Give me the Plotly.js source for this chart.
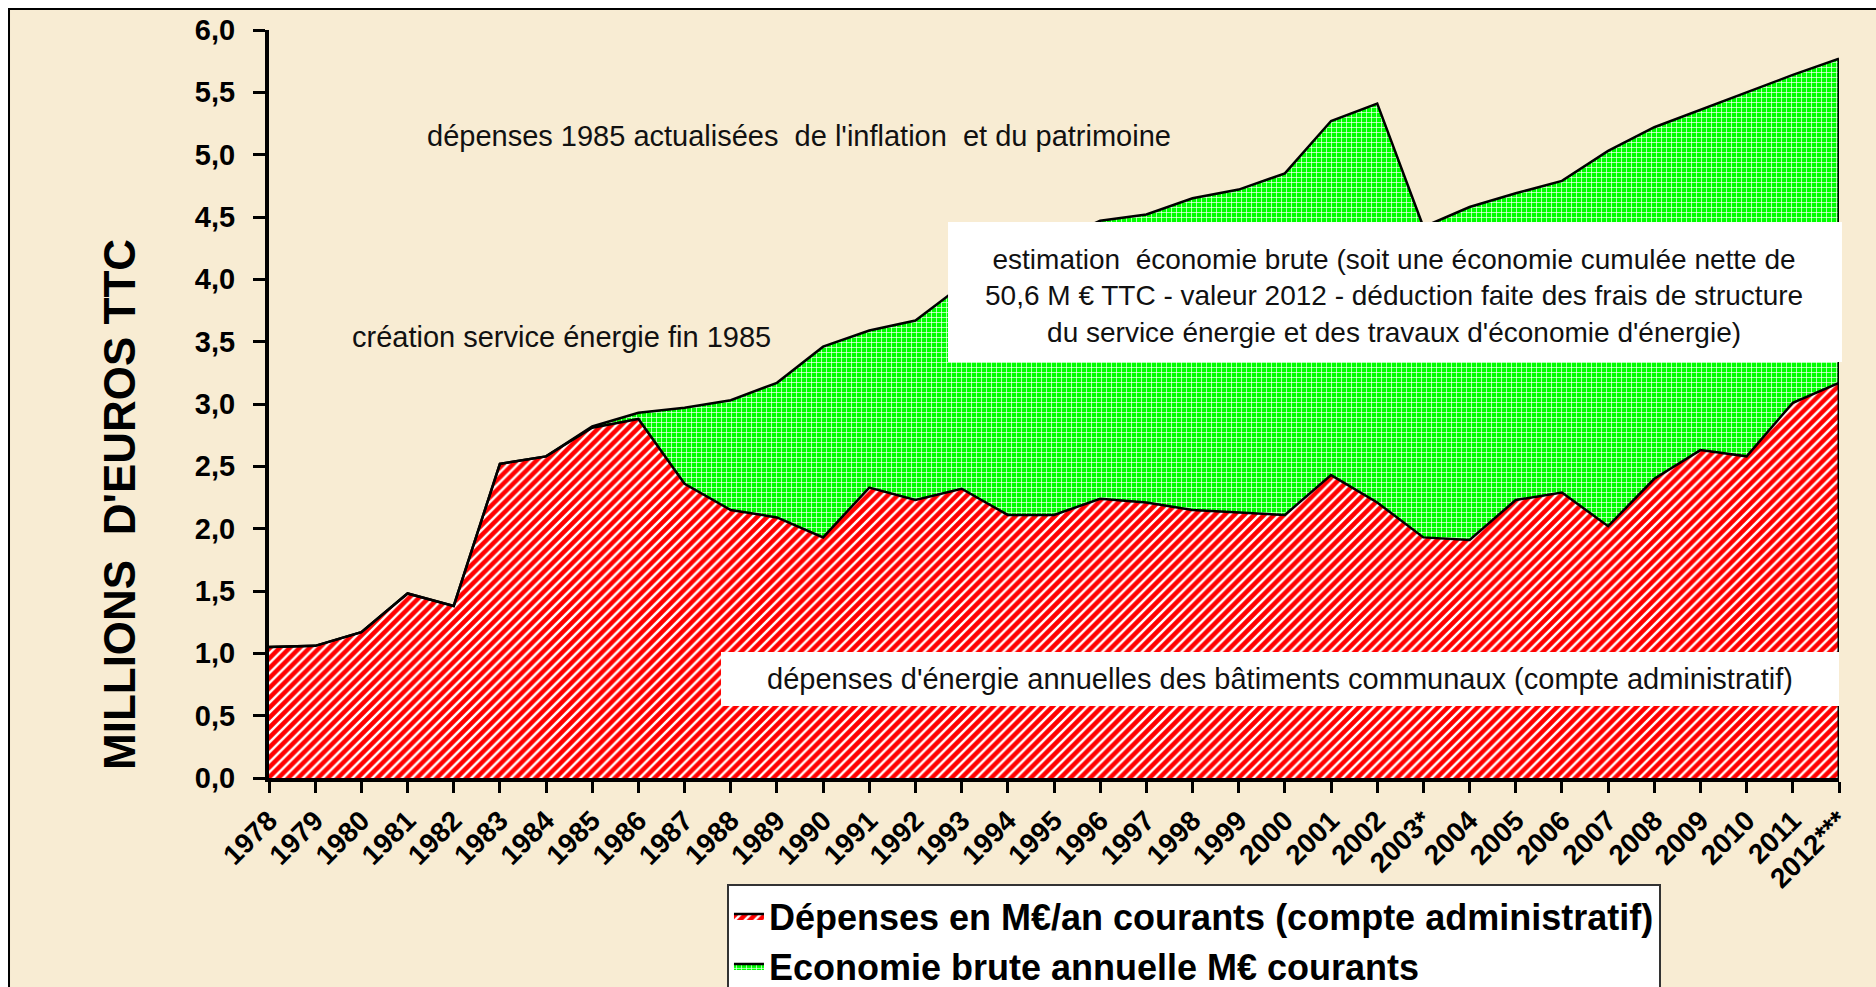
<!DOCTYPE html>
<html>
<head>
<meta charset="utf-8">
<script src="https://cdn.plot.ly/plotly-3.0.1.min.js"></script>
<style>html,body{margin:0;padding:0;background:#fff;}#chart{width:1876px;height:987px;}</style>
</head>
<body>
<div id="chart"></div>
<script>
// ---- data ----
const years = ["1978","1979","1980","1981","1982","1983","1984","1985","1986","1987","1988","1989","1990","1991","1992","1993","1994","1995","1996","1997","1998","1999","2000","2001","2002","2003*","2004","2005","2006","2007","2008","2009","2010","2011","2012***"];
const depenses = [1.05,1.06,1.17,1.48,1.38,2.52,2.58,2.81,2.88,2.36,2.15,2.09,1.93,2.33,2.23,2.32,2.11,2.11,2.24,2.21,2.15,2.13,2.11,2.43,2.21,1.93,1.91,2.23,2.29,2.02,2.40,2.63,2.58,3.01,3.17];
const economie = [0,0,0,0,0,0,0,0.01,0.05,0.61,0.88,1.08,1.53,1.26,1.44,1.63,2.04,2.19,2.23,2.31,2.50,2.59,2.74,2.84,3.20,2.49,2.67,2.46,2.50,3.01,2.82,2.73,2.92,2.63,2.60];
const seriesNames = ["Dépenses en M€/an courants (compte administratif)", "Economie brute annuelle M€ courants"];
const yTitle = "MILLIONS&nbsp;&nbsp;D'EUROS TTC";
const notes = [
  "dépenses 1985 actualisées&nbsp;&nbsp;de l'inflation&nbsp;&nbsp;et du patrimoine",
  "création service énergie fin 1985",
  "estimation&nbsp;&nbsp;économie brute (soit une économie cumulée nette de<br>50,6 M € TTC - valeur 2012 - déduction faite des frais de structure<br>du service énergie et des travaux d'économie d'énergie)",
  "dépenses d'énergie annuelles des bâtiments communaux (compte administratif)"
];

const last = years.length - 1;
const F = "Liberation Sans, Arial, sans-serif";

const traces = [
  {
    type: "scatter", mode: "lines", x: years, y: depenses, name: seriesNames[0],
    stackgroup: "one", line: {color: "#000", width: 2.5},
    fillcolor: "#ff0000",
    fillpattern: {shape: "/", bgcolor: "#ff0000", fgcolor: "#ffffff", size: 7, solidity: 0.35}
  },
  {
    type: "scatter", mode: "lines", x: years, y: economie, name: seriesNames[1],
    stackgroup: "one", line: {color: "#000", width: 2.5},
    fillcolor: "#00ff00",
    fillpattern: {shape: "+", bgcolor: "#00ff00", fgcolor: "#ffffff", size: 5, solidity: 0.25}
  },
  {
    type: "scatter", mode: "lines", x: [years[last], years[last]],
    y: [0, depenses[last] + economie[last]], showlegend: false, hoverinfo: "skip",
    line: {color: "#000", width: 3}
  }
];

function note(i, x, y, extra) {
  return Object.assign({xref: "paper", yref: "paper", x: x, y: y, text: notes[i], showarrow: false,
    xanchor: "center", yanchor: "middle", align: "center",
    font: {family: F, size: 29, color: "#111"}}, extra || {});
}

const layout = {
  width: 1876, height: 987,
  margin: {l: 269, r: 37, t: 30, b: 209, autoexpand: false},
  paper_bgcolor: "#ffffff",
  plot_bgcolor: "rgba(0,0,0,0)",
  separators: ", ",
  font: {family: F, color: "#000"},
  showlegend: true,
  legend: {
    x: 0.2917, xanchor: "left", y: -0.142, yanchor: "top",
    bgcolor: "#ffffff", bordercolor: "#333", borderwidth: 2,
    traceorder: "normal",
    font: {family: F, size: 36, weight: "bold", color: "#000"}
  },
  xaxis: {
    type: "category", range: [0, last], automargin: false,
    showline: true, linecolor: "#000", linewidth: 4,
    ticks: "outside", ticklen: 11, tickwidth: 3, tickcolor: "#000",
    tickangle: -45, showgrid: false, zeroline: false,
    tickfont: {family: F, size: 28, weight: "bold", color: "#000"}
  },
  yaxis: {
    range: [0, 6], dtick: 0.5, tickformat: ".1f", automargin: false,
    showline: true, linecolor: "#000", linewidth: 4,
    ticks: "outside", ticklen: 12, tickwidth: 3, tickcolor: "#000",
    showgrid: false, zeroline: false, ticklabelstandoff: 12,
    tickfont: {family: F, size: 29, weight: "bold", color: "#000"}
  },
  shapes: [
    {type: "rect", xref: "paper", yref: "paper", x0: -0.1656, x1: 1.04, y0: -0.3, y1: 1.028,
     fillcolor: "#f8ecd3", line: {color: "#000", width: 2}, layer: "below"},
    {type: "rect", xref: "paper", yref: "paper", x0: 0.4325, x1: 1.0019, y0: 0.5561, y1: 0.7433,
     fillcolor: "#ffffff", line: {width: 0}, layer: "above"},
    {type: "rect", xref: "paper", yref: "paper", x0: 0.2879, x1: 1.0, y0: 0.0963, y1: 0.1684,
     fillcolor: "#ffffff", line: {width: 0}, layer: "above"}
  ],
  annotations: [
    {xref: "paper", yref: "paper", x: -0.0949, y: 0.365, text: yTitle, textangle: -90,
     xanchor: "center", yanchor: "middle", showarrow: false,
     font: {family: F, size: 44, weight: "bold", color: "#000"}},
    note(0, 0.3376, 0.8583),
    note(1, 0.1866, 0.5896),
    note(2, 0.7166, 0.6444, {font: {family: F, size: 28, color: "#111"}}),
    note(3, 0.6439, 0.1324)
  ]
};

Plotly.newPlot("chart", traces, layout, {displayModeBar: false, staticPlot: true});
</script>
</body>
</html>
